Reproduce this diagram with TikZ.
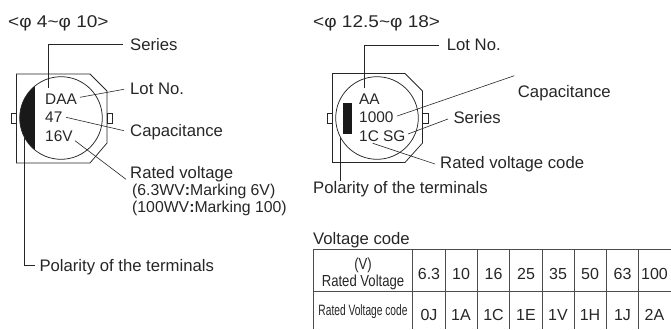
\documentclass[tikz,border=0pt]{standalone}
\usepackage{fontspec}
\setmainfont{Liberation Sans}
\tikzset{
  x=1pt,y=-1pt,
  lbl/.style={inner sep=0pt,anchor=base west,font=\fontsize{16.7}{17}\selectfont,text=black!85},
  inner/.style={lbl,font=\fontsize{15.4}{16}\selectfont},
  paren/.style={lbl,font=\fontsize{15.8}{16}\selectfont},
  titl/.style={lbl,xscale=1.12,font=\fontsize{17}{18}\selectfont},
  body/.style={draw=black!85,line width=0.75pt},
  lead/.style={draw=black!85,line width=0.6pt},
  gridl/.style={draw=black!70,line width=0.9pt},
  cellt/.style={inner sep=0pt,anchor=base,font=\fontsize{16}{17}\selectfont,text=black!85}
}
\begin{document}
\begin{tikzpicture}
\useasboundingbox (0,0) rectangle (671,329);
% left capacitor
\draw[body] (16.5,74) -- (90,74) -- (107,91) -- (107,143) -- (90,163) -- (16.5,163) -- cycle;
\draw[body,fill=white] (11,113) rectangle (16.5,123);
\draw[body,fill=white] (107,113) rectangle (112,123);
\begin{scope}
\clip (61,118) circle (41.3);
\fill[black!90] (15,70) rectangle (34.5,165);
\end{scope}
\draw[body] (61,118) circle (41.3);
% right capacitor
\draw[body] (332.5,73.5) -- (405,73.5) -- (422.5,91) -- (422.5,143) -- (405,162.5) -- (332.5,162.5) -- cycle;
\draw[body,fill=white] (327,113) rectangle (332.5,123);
\draw[body,fill=white] (422.5,113) rectangle (428,123);
\draw[body] (377,118) circle (41.3);
\fill[black!90] (343.3,103) rectangle (352,134);
% left labels
\node[titl] (t1) at (8,27.3) {<φ 4\textasciitilde φ 10>};
\node[inner] (dA) at (45,104) {DAA};
\node[inner] (d47) at (45,122.7) {47};
\node[inner] (d16) at (45,141.7) {16V};
\node[lbl] (series) at (130,50.7) {Series};
\node[lbl] (lot) at (130,94) {Lot No.};
\node[lbl] (cap) at (130,136.7) {Capacitance};
\node[lbl] (rv) at (130,178.7) {Rated voltage};
\node[paren] (rv2) at (132,195.7) {(6.3WV\textbf{:}Marking 6V)};
\node[paren] (rv3) at (132,212.7) {(100WV\textbf{:}Marking 100)};
\node[lbl] (pol) at (39.3,271.7) {Polarity of the terminals};
\coordinate (a1) at (48.3,88);
\coordinate (a2) at (80,97.3);
\coordinate (a3) at (66,117.3);
\coordinate (a4) at (75,140.7);
\coordinate (a5) at (24,138);
\draw[lead] (a1) |- ([shift={(-7,-6.4)}]series.base west);
\draw[lead] (a2) -- ([shift={(-6,-4.7)}]lot.base west);
\draw[lead] (a3) -- ([shift={(-6,-6)}]cap.base west);
\draw[lead] (a4) -- ([shift={(-4,0.6)}]rv.base west);
\draw[lead] (a5) |- ([shift={(-4.3,-6.7)}]pol.base west);
% right labels
\node[titl] (t2) at (313,27.3) {<φ 12.5\textasciitilde φ 18>};
\node[inner] (aa) at (359,104) {AA};
\node[inner] (k) at (359,122.7) {1000};
\node[inner] (sg) at (359,141) {1C SG};
\node[lbl] (lot2) at (446.7,50.7) {Lot No.};
\node[lbl] (cap2) at (517.7,97.3) {Capacitance};
\node[lbl] (ser2) at (453.3,123.3) {Series};
\node[lbl] (rvc) at (440,168) {Rated voltage code};
\node[lbl] (pol2) at (313,193) {Polarity of the terminals};
\coordinate (b1) at (364.3,88);
\coordinate (b2) at (397.3,116);
\coordinate (b3) at (408,134);
\coordinate (b4) at (372.7,143.3);
\coordinate (b5) at (340,138);
\draw[lead] (b1) |- ([shift={(-7.4,-5.7)}]lot2.base west);
\draw[lead] (b2) -- ([shift={(-3.4,-21.6)}]cap2.base west);
\draw[lead] (b3) -- ([shift={(-5.3,-4.3)}]ser2.base west);
\draw[lead] (b4) -- ([shift={(-5,-4)}]rvc.base west);
\draw[lead] (b5) -- (b5 |- pol2.north);
% table (the right and bottom borders are cut off by the picture's edge)
\node[lbl] (vc) at (313,244.5) {Voltage code};
\draw[gridl] (313.5,329) -- (313.5,249) -- (671,249);
\draw[gridl] (313.5,291) -- (671,291);
\foreach \x in {412.7,445,477.3,509.7,542,574,606.3,638.7}
  \draw[gridl] (\x,249) -- (\x,329);
\node[cellt,xscale=.82] (h0) at (363,269) {(V)};
\node[cellt,xscale=.82] (h1) at (363,286) {Rated Voltage};
\node[cellt,xscale=.68,font=\fontsize{15}{16}\selectfont] (h2) at (363,315) {Rated Voltage code};
\foreach \cx/\a/\b in {429/6.3/0J,461/10/1A,493.5/16/1C,526/25/1E,558/35/1V,590/50/1H,622.5/63/1J,654.5/100/2A}{
  \node[cellt] at (\cx,279.3) {\a};
  \node[cellt] at (\cx,320.7) {\b};
}
\end{tikzpicture}
\end{document}
